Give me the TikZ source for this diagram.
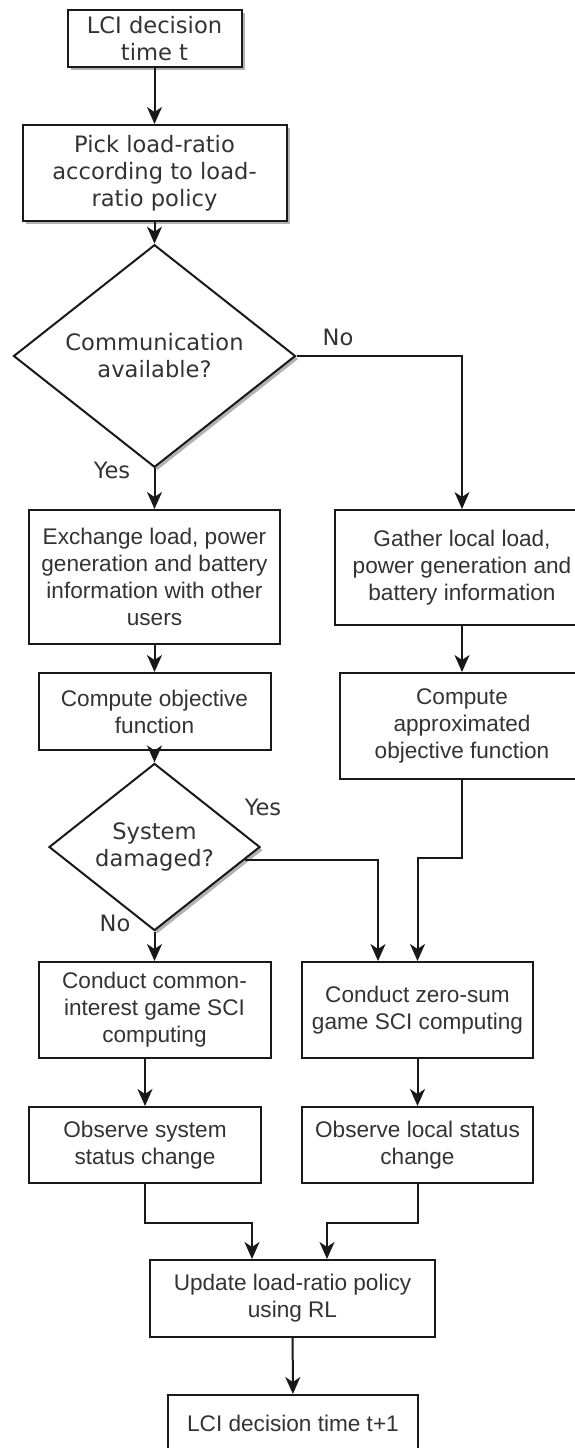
\documentclass[tikz,border=0pt]{standalone}
\usepackage{fontspec}
\setmainfont{Liberation Sans}
\newfontfamily\verdana{DejaVu Sans}
\usetikzlibrary{shapes.geometric,arrows.meta,shadows,calc}

\begin{document}
\begin{tikzpicture}[x=1pt,y=-1pt,
  every node/.style={font=\fontsize{22.6}{27}\selectfont, text=black!80},
  vfont/.style={font=\verdana\fontsize{22.6}{27}\selectfont},
  flowbox/.style={rectangle, draw=black!90, line width=2pt, fill=white,
    inner sep=0pt, align=center},
  decision/.style={diamond, draw=black!90, line width=2pt, fill=white,
    inner sep=0pt, align=center},
  shadowed/.style={drop shadow={shadow xshift=3pt, shadow yshift=-3pt,
    opacity=0.3, fill=black}},
  tip/.tip={Stealth[length=17pt,width=15pt,inset=5pt]},
  link/.style={draw=black!90, line width=2pt, -tip},
  lbl/.style={vfont, inner sep=0pt}
]
% canvas
\useasboundingbox (0,0) rectangle (575,1448);
\clip (0,0) rectangle (575,1448);
\fill[white] (0,0) rectangle (575,1448);

% left column
\node[flowbox, shadowed, vfont, minimum width=174pt, minimum height=57pt]
  (start) at (154.5,38.5) {LCI decision\\time t};
\node[flowbox, shadowed, vfont, minimum width=264pt, minimum height=96pt]
  (pick) at (154.5,173) {Pick load-ratio\\according to load-\\ratio policy};
\node[decision, shadowed, vfont, minimum width=282pt, minimum height=182pt]
  (comm) at (154.5,356) {Communication\\available?};
\node[flowbox, minimum width=251pt, minimum height=134pt]
  (exch) at (154.5,577) {Exchange load, power\\generation and battery\\information with other\\users};
\node[flowbox, minimum width=232pt, minimum height=77pt]
  (obj) at (154.5,711.5) {Compute objective\\function};
\node[decision, shadowed, vfont, minimum width=211pt, minimum height=131pt]
  (dmg) at (154.5,847) {System\\damaged?};
\node[flowbox, minimum width=232pt, minimum height=96pt]
  (common) at (154.5,1010) {Conduct common-\\interest game SCI\\computing};
\node[flowbox, minimum width=232pt, minimum height=76pt]
  (obssys) at (145,1145) {Observe system\\status change};

% right column
\node[flowbox, minimum width=254pt, minimum height=115pt]
  (gather) at (462,567.5) {Gather local load,\\power generation and\\battery information};
\node[flowbox, minimum width=244pt, minimum height=106pt]
  (approx) at (462,726) {Compute\\approximated\\objective function};
\node[flowbox, minimum width=231pt, minimum height=96pt]
  (zero) at (417.5,1010) {Conduct zero-sum\\game SCI computing};
\node[flowbox, minimum width=231pt, minimum height=76pt]
  (obsloc) at (417.5,1145) {Observe local status\\change};

% bottom
\node[flowbox, minimum width=285pt, minimum height=77pt]
  (update) at (292.5,1298.5) {Update load-ratio policy\\using RL};
\node[flowbox, minimum width=250pt, minimum height=57pt]
  (next) at (293,1423.5) {LCI decision time t+1};

% connector end points
\coordinate (dmgout) at ($(dmg.east)!0.15!(dmg.south)$);
\coordinate (zinL) at ([xshift=-39.5pt]zero.north);
\coordinate (uinL) at ([xshift=-40.5pt]update.north);
\coordinate (uinR) at ([xshift=34.5pt]update.north);

% connectors
\draw[link] (start) -- (pick);
\draw[link] (pick) -- (comm);
\draw[link] (comm.south) -- (exch.north);
\draw[link] (comm.east) -| (gather.north);
\draw[link] (exch) -- (obj);
\draw[link] (obj) -- (dmg);
\draw[link] (gather) -- (approx);
\draw[link] (dmg.south) -- (common.north);
\draw[link] (dmgout) -| (zinL);
\draw[link] (approx.south) -- ++(0,78) -| (zero.north);
\draw[link] (common.south -| obssys.north) -- (obssys.north);
\draw[link] (zero) -- (obsloc);
\draw[link] (obssys.south) -- ++(0,39) -| (uinL);
\draw[link] (obsloc.south) -- ++(0,39) -| (uinR);
\draw[link] (update) -- (next);

% branch labels
\node[lbl] (noA) at (338,337) {No};
\node[lbl] (yesA) at (112,470) {Yes};
\node[lbl] (yesB) at (263,807) {Yes};
\node[lbl] (noB) at (115,923) {No};
\end{tikzpicture}
\end{document}
